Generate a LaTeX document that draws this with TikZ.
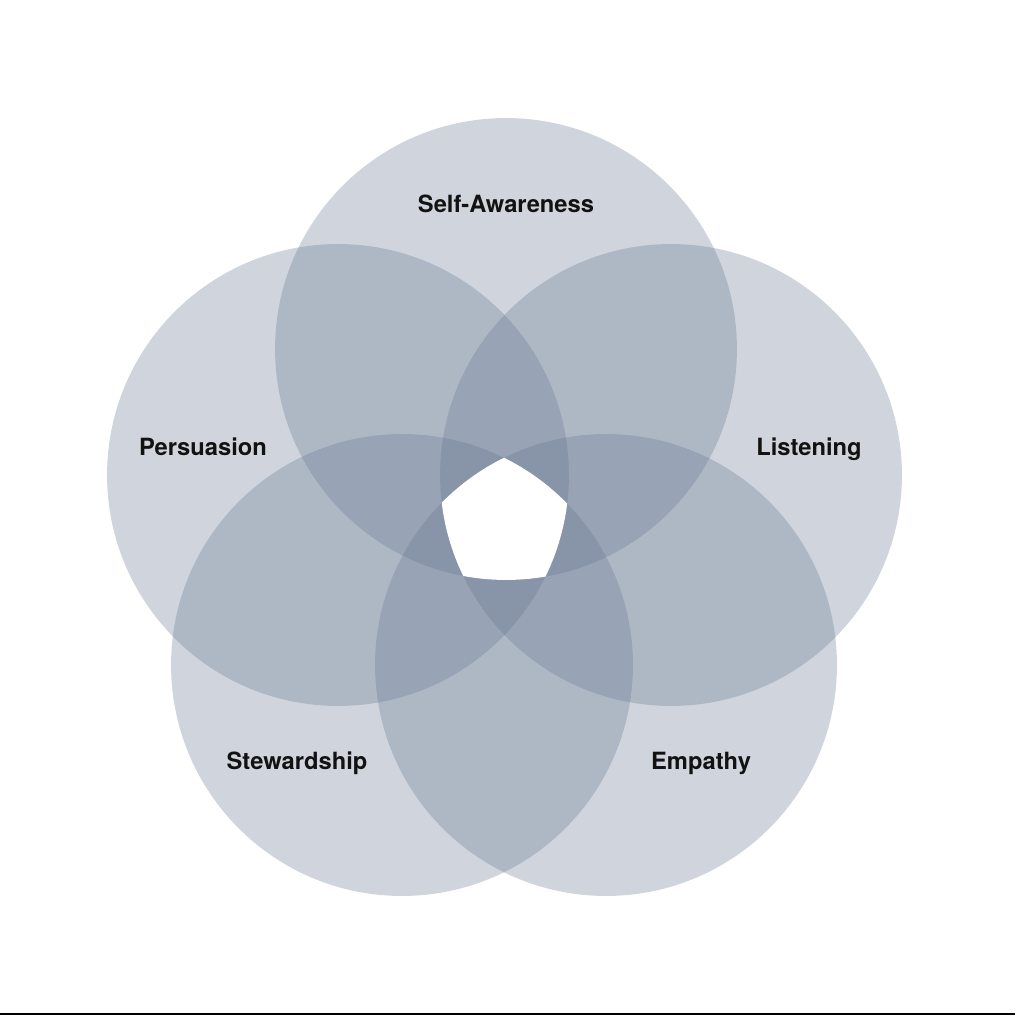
\documentclass[tikz,border=0pt]{standalone}
\usepackage{fontspec}
\setsansfont{TeX Gyre Heros}
\usepackage{xcolor}
\usepackage{tikz}
\usetikzlibrary{positioning}

\definecolor{discblue}{RGB}{98,116,142}

\begin{document}
\begin{tikzpicture}[x=0.02cm,y=-0.02cm,
                    disc/.style={fill=discblue,fill opacity=0.3},
                    skill/.style={font=\sffamily\bfseries\fontsize{13.5}{16}\selectfont,
                    text=black!93,anchor=base,inner sep=0pt}]

\useasboundingbox (0,0) rectangle (1015,1016);

% circle centres
\coordinate (S) at (506,349);
\coordinate (P) at (338,475);
\coordinate (L) at (671,475);
\coordinate (W) at (402,665);
\coordinate (E) at (606,665);

\foreach \c in {S,P,L,W,E}
    \fill[disc] (\c) circle (4.62cm);

% common part of all five
\begin{scope}
    \clip (S) circle (4.62cm);
    \clip (P) circle (4.62cm);
    \clip (L) circle (4.62cm);
    \clip (W) circle (4.62cm);
    \fill[white] (E) circle (4.62cm);
\end{scope}

\node[skill] (self) at (506,213) {Self-Awareness};
\node[skill] (pers) at (203,455) {Persuasion};
\node[skill] (list) at (809,455) {Listening};
\node[skill] (stew) at (297,769) {Stewardship};
\node[skill] (emp) at (701,769) {Empathy};

\coordinate (baseL) at (0,1014);
\coordinate (baseR) at (1015,1014);
\draw[line width=0.7pt] (baseL) -- (baseR);

\end{tikzpicture}
\end{document}
